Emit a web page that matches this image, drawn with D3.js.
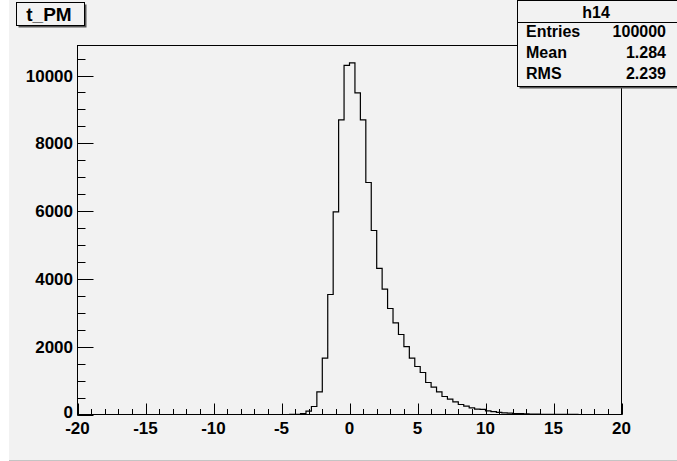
<!DOCTYPE html>
<html>
<head>
<meta charset="utf-8">
<script src="https://cdn.jsdelivr.net/npm/d3@7"></script>
<style>
html,body{margin:0;padding:0;background:#fff;}
svg{display:block;}
text{font-family:"Liberation Sans",Arial,Helvetica,sans-serif;font-weight:bold;fill:#000;}
</style>
</head>
<body>
<script>
// ---- data ----
const histTitle = "t_PM";
const histName = "h14";
const xMin = -20, xMax = 20, nBins = 100;
const counts = [
  0,0,0,0,0,0,0,0,0,0,
  0,0,0,0,0,0,0,0,0,0,
  0,0,0,0,0,0,0,0,0,0,
  0,0,0,0,0,0,0,0,0,2,
  5,30,100,236,670,1663,3540,5980,8690,10300,
  10370,9485,8693,6844,5428,4310,3699,3127,2700,2360,
  2000,1663,1416,1239,944,808,670,531,454,375,
  295,248,198,160,150,105,85,65,50,40,
  30,25,18,14,10,8,6,4,3,2,
  1,1,0,0,0,0,0,0,0,0
];
const statLabels = ["Entries","Mean","RMS"];
const statValues = ["100000","1.284","2.239"];
const xMajorTicks = [-20,-15,-10,-5,0,5,10,15,20];
const yMajorTicks = [0,2000,4000,6000,8000,10000];
const yMax = 10885;

// ---- drawing ----
const W = 677, H = 461;
const svg = d3.select("body").append("svg").attr("width",W).attr("height",H);

// canvas
svg.append("rect").attr("x",0).attr("y",0).attr("width",W).attr("height",H).attr("fill","#ffffff");
svg.append("rect").attr("x",9).attr("y",0).attr("width",W-9).attr("height",460).attr("fill","#f2f2f2");
svg.append("line").attr("x1",9).attr("x2",W).attr("y1",460.5).attr("y2",460.5).attr("stroke","#c4c4c4");

const L = 77.5, R = 621.5, T = 45.5, B = 414.5;
const x = d3.scaleLinear().domain([xMin,xMax]).range([L,R]);
const y = d3.scaleLinear().domain([0,yMax]).range([B,T]);

// frame
svg.append("rect").attr("x",L).attr("y",T).attr("width",R-L).attr("height",B-T)
  .attr("fill","#f2f2f2").attr("stroke","#000").attr("stroke-width",1);

// histogram
const bw = (xMax-xMin)/nBins;
const pts = counts.map((c,i)=>[xMin+i*bw, c]);
pts.push([xMax, counts[counts.length-1]]);
const line = d3.line().x(d=>x(d[0])).y(d=>y(d[1])).curve(d3.curveStepAfter);
svg.append("path").attr("d",line(pts)).attr("fill","none").attr("stroke","#000").attr("stroke-width",1.2);

// x axis ticks
const xMinor = d3.range(xMin, xMax+0.001, 1);
const gx = svg.append("g");
gx.selectAll("line.mn").data(xMinor).join("line")
  .attr("x1",d=>Math.round(x(d))+0.5).attr("x2",d=>Math.round(x(d))+0.5)
  .attr("y1",B).attr("y2",B-5.5).attr("stroke","#000");
gx.selectAll("line.mj").data(xMajorTicks).join("line")
  .attr("x1",d=>Math.round(x(d))+0.5).attr("x2",d=>Math.round(x(d))+0.5)
  .attr("y1",B).attr("y2",B-11).attr("stroke","#000");
gx.selectAll("text").data(xMajorTicks).join("text")
  .attr("x",d=>x(d)).attr("y",433.5).attr("text-anchor","middle")
  .attr("font-size",17).text(d=>d);

// y axis ticks
const yMinor = d3.range(0, yMax, 500);
const gy = svg.append("g");
gy.selectAll("line.mn").data(yMinor).join("line")
  .attr("x1",L).attr("x2",L+8)
  .attr("y1",d=>Math.round(y(d))+0.5).attr("y2",d=>Math.round(y(d))+0.5).attr("stroke","#000");
gy.selectAll("line.mj").data(yMajorTicks).join("line")
  .attr("x1",L).attr("x2",L+16)
  .attr("y1",d=>Math.round(y(d))+0.5).attr("y2",d=>Math.round(y(d))+0.5).attr("stroke","#000");
gy.selectAll("text").data(yMajorTicks).join("text")
  .attr("x",73).attr("y",d=> d===0 ? y(d)+3.5 : y(d)+6).attr("text-anchor","end")
  .attr("font-size",17).text(d=>d);

// title box
svg.append("rect").attr("x",18.5).attr("y",4.5).attr("width",68).attr("height",23).attr("fill","#555");
svg.append("rect").attr("x",16.5).attr("y",2.5).attr("width",68).attr("height",23)
  .attr("fill","#f2f2f2").attr("stroke","#000");
svg.append("text").attr("x",49).attr("y",21).attr("text-anchor","middle").attr("font-size",19).text(histTitle);

// stats box
const sx = 517.5, sy = 0.5, sw = 162, sh = 86;
svg.append("rect").attr("x",sx+2).attr("y",sy+2).attr("width",sw).attr("height",sh).attr("fill","#555");
svg.append("rect").attr("x",sx).attr("y",sy).attr("width",sw).attr("height",sh)
  .attr("fill","#f2f2f2").attr("stroke","#000");
svg.append("line").attr("x1",sx).attr("x2",sx+sw).attr("y1",22.5).attr("y2",22.5).attr("stroke","#000");
svg.append("text").attr("x",596).attr("y",18).attr("text-anchor","middle").attr("font-size",16).text(histName);
statLabels.forEach((s,i)=>{
  svg.append("text").attr("x",526).attr("y",37+i*21).attr("font-size",16).text(s);
  svg.append("text").attr("x",666).attr("y",37+i*21).attr("text-anchor","end").attr("font-size",16).text(statValues[i]);
});
</script>
</body>
</html>
